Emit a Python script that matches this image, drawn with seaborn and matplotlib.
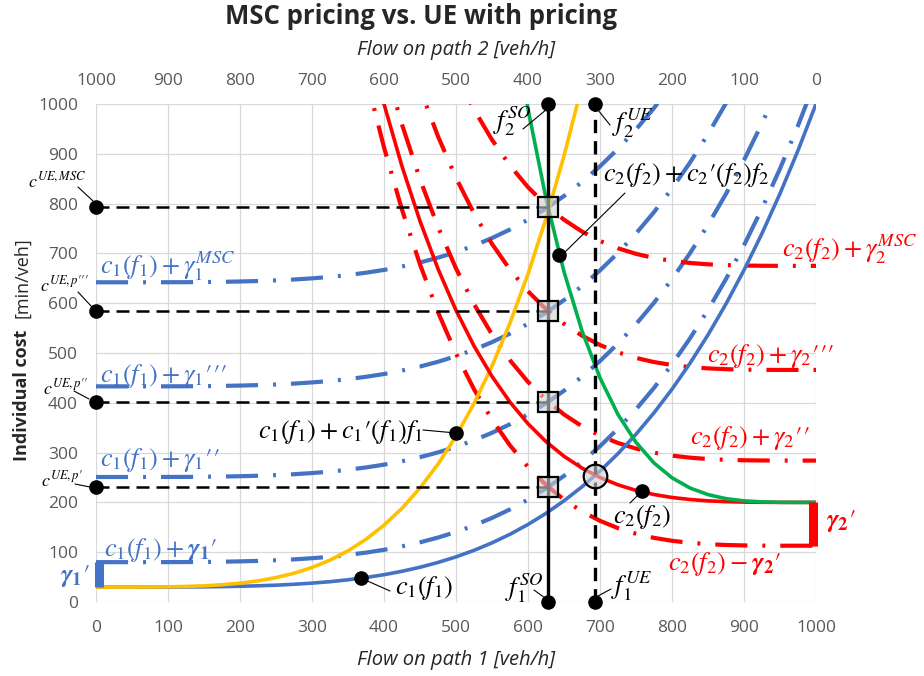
import numpy as np
import pandas as pd
import matplotlib
matplotlib.use("Agg")
import matplotlib.pyplot as plt
import seaborn as sns

# ---------------- data ----------------
flow1 = [0, 25, 50, 75, 100, 125, 150, 175, 200, 225, 250, 275, 300, 325, 350,
         375, 400, 425, 450, 475, 500, 525, 550, 575, 600, 625, 650, 675, 700,
         725, 750, 775, 800, 825, 850, 875, 900, 925, 950, 975, 1000]
# c1(f1)
cost1 = [30.0, 30.0, 30.0, 30.0, 30.1, 30.2, 30.5, 30.9, 31.6, 32.5, 33.8, 35.6,
         37.9, 40.8, 44.6, 49.2, 54.8, 61.7, 69.8, 79.4, 90.6, 103.7, 118.8, 136.0,
         155.7, 178.0, 203.2, 231.4, 262.9, 298.0, 336.9, 379.9, 427.3, 479.4,
         536.4, 598.6, 666.4, 740.1, 820.1, 906.6, 1000.0]
# c1(f1) + c1'(f1) f1   (flow1 from 0 to 700)
mcost1 = [30.0, 30.0, 30.0, 30.2, 30.5, 31.2, 32.5, 34.6, 37.8, 42.4, 49.0, 57.7,
          69.3, 84.1, 102.8, 125.9, 154.2, 188.2, 228.9, 276.9, 333.1, 398.5,
          473.8, 560.2, 658.6, 770.1, 895.8, 1036.8, 1194.5]
# c2(f2) with f2 = 1000 - f1   (flow1 from 350 to 1000)
cost2 = [1301.9, 1141.9, 1000.0, 874.8, 764.9, 669.0, 585.8, 514.2, 453.1, 401.4,
         358.0, 322.1, 292.6, 268.9, 250.0, 235.3, 224.1, 215.8, 209.9, 205.8,
         203.1, 201.5, 200.6, 200.2, 200.0, 200.0, 200.0]
# c2(f2) + c2'(f2) f2   (flow1 from 575 to 1000)
mcost2 = [1207.0, 990.1, 810.4, 663.2, 544.3, 450.0, 376.5, 320.6, 279.1, 249.4,
          228.9, 215.6, 207.5, 203.1, 201.0, 200.2, 200.0, 200.0]

# tolls for schemes p', p'', p''', MSC
gamma1 = [50, 221, 403, 612]
gamma2 = [-87, 84, 266, 475]
ue_cost_levels = [231, 402, 584, 793]
f1_so = 628
f1_ue = 693
c_ue = 254
ticks = [0, 100, 200, 300, 400, 500, 600, 700, 800, 900, 1000]

# ---------------- style ----------------
sns.set_style("white")
plt.rcParams.update({
    "font.family": ["Open Sans", "DejaVu Sans"],
    "mathtext.fontset": "stix",
})

blue = "#4472C4"
red = "#FF0000"
yellow = "#FFC000"
green = "#00B050"
dd = (0, (7.7, 3.6, 0.7, 3.6))

W, H = 924, 676
fig = plt.figure(figsize=(W / 100, H / 100), dpi=100)
ax = fig.add_axes([96 / W, 1 - 602 / H, 720 / W, 498 / H])


def X(px):
    return (px - 96) / 0.72


def Y(py):
    return (602 - py) / 0.498


df1 = pd.DataFrame({"f1": flow1, "c1": cost1})
dfm1 = pd.DataFrame({"f1": flow1[:len(mcost1)], "v": mcost1})
df2 = pd.DataFrame({"f1": flow1[len(flow1) - len(cost2):], "c2": cost2})
dfm2 = pd.DataFrame({"f1": flow1[len(flow1) - len(mcost2):], "v": mcost2})

# tolled curves
for g in gamma1:
    sns.lineplot(x=df1["f1"], y=df1["c1"] + g, color=blue, lw=3, linestyle=dd,
                 ax=ax, zorder=3)
for g in gamma2:
    sns.lineplot(x=df2["f1"], y=df2["c2"] + g, color=red, lw=3, linestyle=dd,
                 ax=ax, zorder=3)

# base curves
sns.lineplot(data=df1, x="f1", y="c1", color=blue, lw=2.6, ax=ax, zorder=4)
sns.lineplot(data=dfm1, x="f1", y="v", color=yellow, lw=2.6, ax=ax, zorder=4)
sns.lineplot(data=df2, x="f1", y="c2", color=red, lw=2.6, ax=ax, zorder=4)
sns.lineplot(data=dfm2, x="f1", y="v", color=green, lw=2.6, ax=ax, zorder=4)

# brackets for gamma1' and gamma2'
ax.plot([4, 4], [cost1[0], cost1[0] + gamma1[0]], color=blue, lw=6.5,
        solid_capstyle="butt", clip_on=False, zorder=4)
ax.plot([996.5, 996.5], [cost2[-1] + gamma2[0], cost2[-1]], color=red, lw=6.5,
        solid_capstyle="butt", clip_on=False, zorder=4)

# SO / UE lines
ax.plot([f1_so, f1_so], [0, 1000], color="black", lw=2.4, clip_on=False, zorder=5)
ax.plot([f1_ue, f1_ue], [0, 1000], color="black", lw=2.4, ls=(0, (4, 2.4)),
        clip_on=False, zorder=5)
for lvl in ue_cost_levels:
    ax.plot([0, f1_so], [lvl, lvl], color="black", lw=1.8, ls=(0, (5.2, 2.8)),
            zorder=5)

# markers
ax.plot([0] * 4, ue_cost_levels, "o", color="black", ms=9.5, clip_on=False, zorder=8)
ax.plot([f1_so, f1_so, f1_ue, f1_ue], [0, 1000, 0, 1000], "o", color="black", ms=9.5,
        clip_on=False, zorder=8)
ax.plot([368, 500, 758, 643], [48, 339, 223, 697], "o", color="black", ms=9.5,
        zorder=8)
ax.plot([f1_so] * 4, ue_cost_levels, "s", ms=14, mfc=(0.82, 0.82, 0.82, 0.6),
        mec="black", mew=1.6, zorder=7)
ax.plot([f1_ue], [c_ue], "o", ms=17, mfc=(0.82, 0.82, 0.82, 0.6),
        mec="black", mew=1.6, zorder=7)

# leader lines
leaders = [((78, 187), (93, 201)), ((78, 292), (92, 307)), ((74, 391), (89, 399)),
           ((75, 484), (90, 487)), ((423, 430), (456, 433)), ((363, 579), (390, 591)),
           ((642, 491), (630, 503)), ((625, 193), (562, 255)), ((523, 129), (547, 109)),
           ((598, 110), (610, 125)), ((534, 590), (545, 598)), ((598, 596), (611, 589))]
for (a, b) in leaders:
    ax.plot([X(a[0]), X(b[0])], [Y(a[1]), Y(b[1])], color="black", lw=0.8,
            clip_on=False, zorder=6)

fs = 19
kw = dict(fontsize=fs, clip_on=False, zorder=9)
P = r"{\prime}"
# blue labels
ax.text(X(100), Y(266), r"$c_1(f_1)+\gamma_1^{MSC}$", color=blue, ha="left", va="center", **kw)
ax.text(X(100), Y(376), r"$c_1(f_1)+\gamma_1" + P * 3 + "$", color=blue, ha="left", va="center", **kw)
ax.text(X(100), Y(460), r"$c_1(f_1)+\gamma_1" + P * 2 + "$", color=blue, ha="left", va="center", **kw)
ax.text(X(104), Y(550), r"$c_1(f_1)+\boldsymbol{\gamma}_\mathbf{1}" + P + "$", color=blue, ha="left", va="center", **kw)
ax.text(X(90), Y(576), r"$\boldsymbol{\gamma}_\mathbf{1}" + P + "$", color=blue, ha="right", va="center", **kw)
# red labels
ax.text(X(782), Y(249), r"$c_2(f_2)+\gamma_2^{MSC}$", color=red, ha="left", va="center", **kw)
ax.text(X(707), Y(356), r"$c_2(f_2)+\gamma_2" + P * 3 + "$", color=red, ha="left", va="center", **kw)
ax.text(X(690), Y(438), r"$c_2(f_2)+\gamma_2" + P * 2 + "$", color=red, ha="left", va="center", **kw)
ax.text(X(668), Y(564), r"$c_2(f_2)-\boldsymbol{\gamma}_\mathbf{2}" + P + "$", color=red, ha="left", va="center", **kw)
ax.text(X(826), Y(521), r"$\boldsymbol{\gamma}_\mathbf{2}" + P + "$", color=red, ha="left", va="center", **kw)
# black labels
ax.text(X(423), Y(432), r"$c_1(f_1)+c_1" + P + r"(f_1)f_1$", color="black", ha="right", va="center", **kw)
ax.text(X(395), Y(588), r"$c_1(f_1)$", color="black", ha="left", va="center", **kw)
ax.text(X(613), Y(517), r"$c_2(f_2)$", color="black", ha="left", va="center", **kw)
ax.text(X(603), Y(175), r"$c_2(f_2)+c_2" + P + r"(f_2)f_2$", color="black", ha="left", va="center", **kw)
ax.text(X(531), Y(121), r"$f_2^{SO}$", color="black", ha="right", va="center", **kw)
ax.text(X(612), Y(123), r"$f_2^{UE}$", color="black", ha="left", va="center", **kw)
ax.text(X(543), Y(588), r"$f_1^{SO}$", color="black", ha="right", va="center", **kw)
ax.text(X(611), Y(586), r"$f_1^{UE}$", color="black", ha="left", va="center", **kw)
kw2 = dict(fontsize=13, clip_on=False, zorder=9, color="black", ha="right", va="center")
ax.text(X(86), Y(181), r"$c^{UE,MSC}$", **kw2)
ax.text(X(89), Y(285), r"$c^{UE,p" + P * 3 + "}$", **kw2)
ax.text(X(89), Y(388), r"$c^{UE,p" + P * 2 + "}$", **kw2)
ax.text(X(83), Y(480), r"$c^{UE,p" + P + "}$", **kw2)

# axes styling
ax.set_xlim(0, 1000)
ax.set_ylim(0, 1000)
ax.set_xticks(ticks)
ax.set_yticks(ticks)
ax.set_xlabel("")
ax.set_ylabel("")
ax.set_axisbelow(True)
ax.grid(True, color="#d9d9d9", lw=0.9)
for s in ax.spines.values():
    s.set_visible(False)
ax.tick_params(axis="x", length=0, labelsize=12.5, labelcolor="#595959", pad=13)
ax.tick_params(axis="y", length=0, labelsize=12.5, labelcolor="#595959", pad=13)

ax2 = ax.twiny()
ax2.set_xlim(1000, 0)
ax2.set_xticks(ticks)
for s in ax2.spines.values():
    s.set_visible(False)
ax2.tick_params(axis="x", length=0, labelsize=12.5, labelcolor="#595959", pad=11)

fig.text(421 / W, 1 - 16 / H, "MSC pricing vs. UE with pricing", ha="center",
         va="center", fontsize=18.5, fontweight="bold")
fig.text(456 / W, 1 - 50 / H, "Flow on path 2 [veh/h]", ha="center", va="center",
         fontsize=14.5, style="italic")
fig.text(456 / W, 1 - 660 / H, "Flow on path 1 [veh/h]", ha="center", va="center",
         fontsize=14.5, style="italic")
fig.text(22 / W, 1 - 461 / H, "Individual cost", rotation=90, ha="center",
         va="bottom", fontsize=13, fontweight="bold")
fig.text(22 / W, 1 - 318 / H, "[min/veh]", rotation=90, ha="center",
         va="bottom", fontsize=13)

fig.savefig("out.png", dpi=100)
